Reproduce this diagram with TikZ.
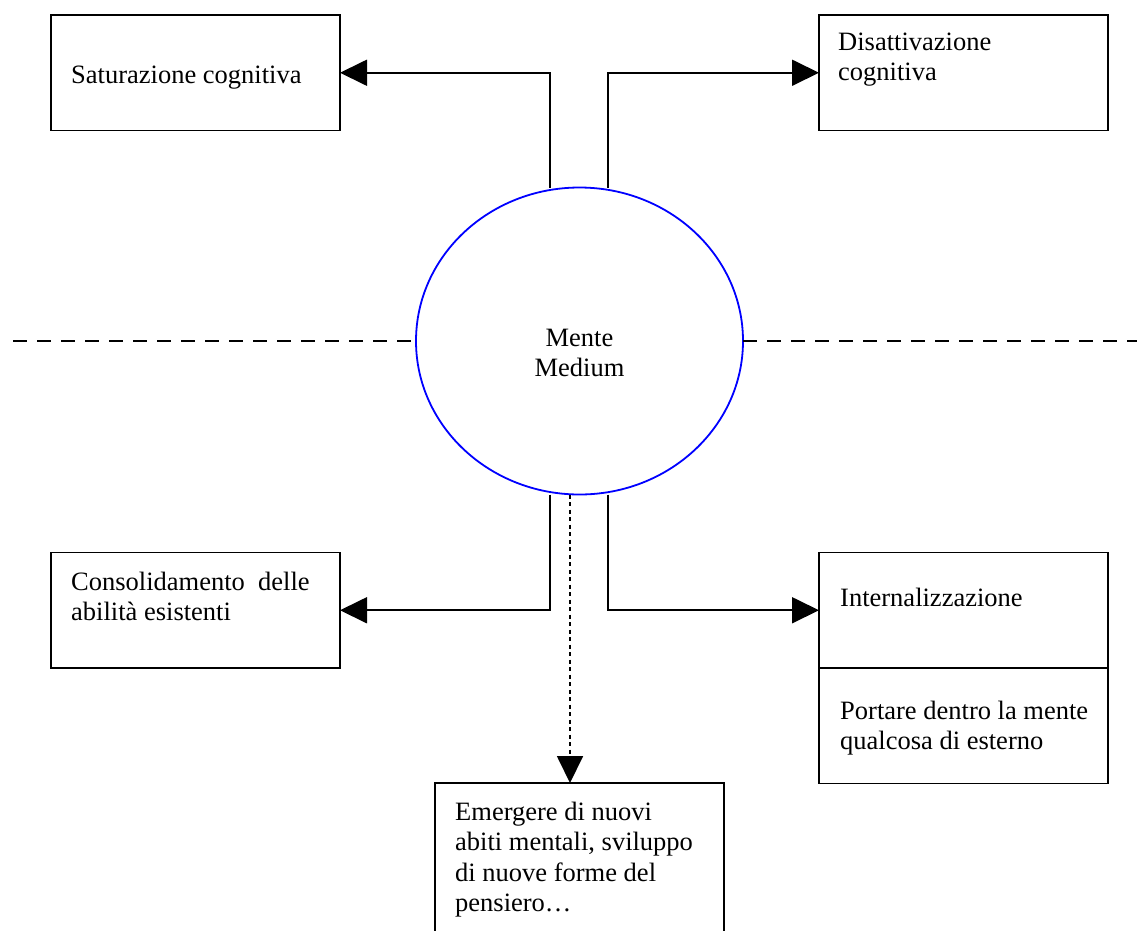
\documentclass[tikz,border=0pt]{standalone}
\usepackage{fontspec}
\setmainfont{Liberation Serif}
\usetikzlibrary{arrows.meta,calc,shapes.geometric}
\newcommand\boxtext[2]{\parbox[t]{#1}{\raggedright #2}}
\begin{document}
\begin{tikzpicture}[x=1pt,y=-1pt,
  box/.style={draw,line width=1.8pt,rectangle,minimum width=289pt,minimum height=115.5pt,inner sep=0pt,outer sep=0pt,anchor=north west,fill=white},
  txt/.style={anchor=base west,inner sep=0pt,font=\fontsize{26.5}{30.5}\selectfont},
  ctxt/.style={anchor=base,inner sep=0pt,font=\fontsize{26.5}{30.5}\selectfont},
  conn/.style={line width=1.8pt,-{Triangle[length=27pt,width=26pt]}},
  dotconn/.style={line width=1.8pt,dash pattern=on 4pt off 3.5pt,-{Triangle[length=27pt,width=26pt]}},
  dashline/.style={line width=2pt,dash pattern=on 14pt off 10pt},
  mind/.style={draw=blue,line width=1.8pt,ellipse,minimum width=327pt,minimum height=307pt,inner sep=0pt,outer sep=0pt,fill=white}
]
\useasboundingbox (0,0) rectangle (1137,930);
\clip (0,0) rectangle (1137,930);

% central ellipse
\node[mind] (ell) at (579.5,341) {};
\node[ctxt] (tell) at ($(ell.center)+(0,5)$) {\parbox[t]{200pt}{\centering Mente\\Medium}};

% boxes
\node[box] (b1) at (51,15) {};
\node[box] (b2) at (819,15) {};
\node[box] (b3) at (51,552.5) {};
\node[box] (b4a) at (819,552.5) {};
\node[box] (b4b) at (819,668) {};
\node[box,minimum height=200pt] (b5) at (435,783) {};

% texts
\node[txt] (t1) at ($(b1.north west)+(20,68)$) {\boxtext{265pt}{Saturazione cognitiva}};
\node[txt] (t2) at ($(b2.north west)+(19,35)$) {\boxtext{265pt}{Disattivazione\\cognitiva}};
\node[txt] (t3) at ($(b3.north west)+(20,37.5)$) {\boxtext{265pt}{Consolidamento~~delle\\abilità esistenti}};
\node[txt] (t4a) at ($(b4a.north west)+(21,53.5)$) {\boxtext{265pt}{Internalizzazione}};
\node[txt] (t4b) at ($(b4b.north west)+(21,51)$) {\boxtext{265pt}{Portare dentro la mente\\qualcosa di esterno}};
\node[txt] (t5) at ($(b5.north west)+(20,37)$) {\boxtext{265pt}{Emergere di nuovi\\abiti mentali, sviluppo\\di nuove forme del\\pensiero…}};

% connectors
\coordinate (ut1) at ($(ell.north)+(-29.5,0)$);
\coordinate (ut2) at ($(ell.north)+(28.5,0)$);
\coordinate (lt1) at ($(ell.south)+(-29.5,0)$);
\coordinate (lt2) at ($(ell.south)+(28.5,0)$);
\coordinate (d0) at ($(ell.south)+(-9.5,0)$);
\draw[conn] (ut1) |- (b1.east);
\draw[conn] (ut2) |- (b2.west);
\draw[conn] (lt1) |- (b3.east);
\draw[conn] (lt2) |- (b4a.west);
\draw[dotconn] (d0) -- (d0 |- b5.north);

% dashed horizon
\coordinate (dl) at (13,341);
\coordinate (dr) at (1137,341);
\draw[dashline] (dl) -- (ell.west);
\draw[dashline] (ell.east) -- (dr);
\end{tikzpicture}
\end{document}
